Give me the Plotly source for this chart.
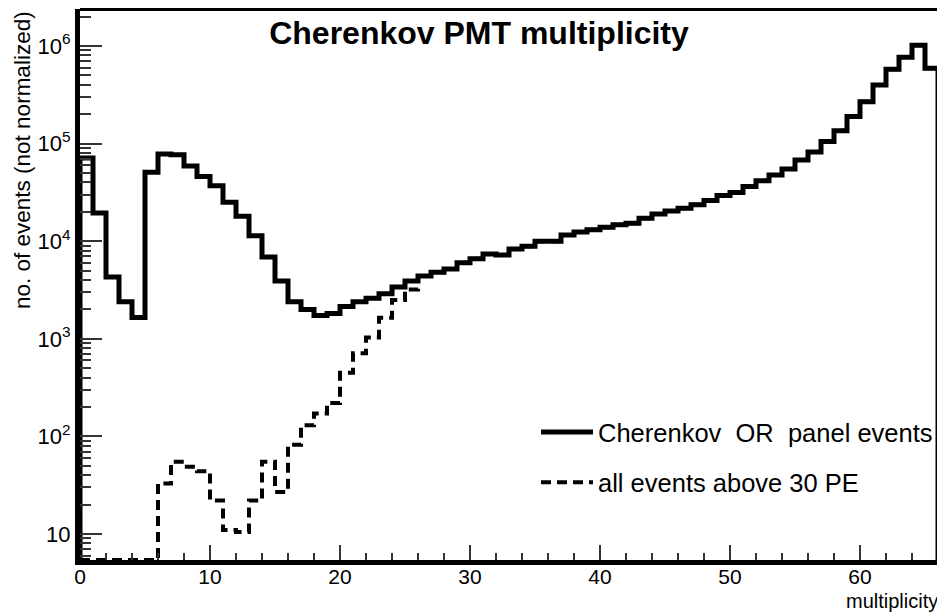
import numpy as np
import plotly.graph_objects as go

# bin contents, multiplicity bins 0..65 (width 1)
cherenkov_or_panel = [
    7.1e4, 1.95e4, 4.3e3, 2.4e3, 1.65e3, 5.1e4, 7.8e4, 7.7e4, 5.9e4, 4.6e4,
    3.7e4, 2.5e4, 1.8e4, 1.14e4, 6.9e3, 3.9e3, 2.4e3, 2.0e3, 1.73e3, 1.82e3,
    2.14e3, 2.4e3, 2.6e3, 2.9e3, 3.4e3, 3.9e3, 4.4e3, 4.8e3, 5.2e3, 6.0e3,
    6.6e3, 7.4e3, 7.2e3, 8.3e3, 8.9e3, 1.0e4, 1.0e4, 1.16e4, 1.24e4, 1.31e4,
    1.39e4, 1.47e4, 1.53e4, 1.72e4, 1.9e4, 2.04e4, 2.18e4, 2.36e4, 2.61e4, 2.94e4,
    3.15e4, 3.64e4, 4.15e4, 4.78e4, 5.5e4, 6.8e4, 8.2e4, 1.05e5, 1.35e5, 1.89e5,
    2.69e5, 3.99e5, 5.77e5, 7.66e5, 1.02e6, 5.9e5,
]
# low multiplicity part of the >30 PE histogram; above bin 25 it sits on the other one
above_30pe_low = [
    0, 0, 0, 0, 0, 0, 33, 55, 49, 44,
    22, 11, 10.5, 22, 55, 27, 82, 130, 172, 220,
    450, 710, 1.03e3, 1.64e3, 2.5e3, 3.2e3,
]
above_30pe = above_30pe_low + cherenkov_or_panel[len(above_30pe_low):]

labels = ["Cherenkov  OR  panel events", "all events above 30 PE"]
title = "Cherenkov PMT multiplicity"

ytickvals = [10, 1e2, 1e3, 1e4, 1e5, 1e6]
yticktext = ["10", "10<sup>2</sup>", "10<sup>3</sup>", "10<sup>4</sup>", "10<sup>5</sup>", "10<sup>6</sup>"]

FONT = "Liberation Sans, Arial, Helvetica, sans-serif"
W, H = 937, 608          # page body adds 8px margin
L, T, B = 72, 1, 56
PW, PH = W - L, H - T - B
ylog_range = [0.7336, 6.379]
xmax = PW / 13.0
yfloor = 10 ** ylog_range[0]

edges = np.arange(len(cherenkov_or_panel) + 1)


def step_xy(vals):
    v = np.maximum(np.array(vals, dtype=float), yfloor)
    x = np.concatenate([[edges[0]], edges, [edges[-1]]])
    y = np.concatenate([[yfloor], v, [v[-1]], [yfloor]])
    return x, y


def px_x(px):
    return (px - L) / PW


def px_y(py):
    return (H - B - py) / PH


fig = go.Figure()
x1, y1 = step_xy(cherenkov_or_panel)
fig.add_trace(go.Scatter(x=x1, y=y1, mode="lines", line_shape="hv",
                         line=dict(color="black", width=5),
                         name=labels[0], legendgroup="a"))
x2, y2 = step_xy(above_30pe)
fig.add_trace(go.Scatter(x=x2, y=y2, mode="lines", line_shape="hv",
                         line=dict(color="black", width=4, dash="10px,6px"),
                         name=labels[1], legendgroup="b"))

minor_y = [m * 10 ** k for k in range(0, 7) for m in range(2, 10)
           if 10 ** ylog_range[0] < m * 10 ** k < 10 ** ylog_range[1]]

fig.update_layout(
    width=W, height=H,
    margin=dict(l=L, r=0, t=T, b=B),
    paper_bgcolor="white", plot_bgcolor="white",
    font=dict(family=FONT, color="black"),
    title=dict(text="<b>" + title + "</b>", x=471 / W, xanchor="center",
               y=1 - 25 / H, yanchor="middle",
               font=dict(size=32, family=FONT, color="black")),
    xaxis=dict(range=[0, xmax], showgrid=False, zeroline=False,
               showline=True, linecolor="black", linewidth=5,
               ticks="inside", ticklen=15, tickwidth=1.5, tickcolor="#333",
               tick0=0, dtick=10, tickfont=dict(size=21), ticklabelstandoff=-6,
               minor=dict(ticks="inside", ticklen=7, tickwidth=1.5, tickcolor="#333",
                          tick0=0, dtick=2)),
    yaxis=dict(type="log", range=ylog_range, showgrid=False, zeroline=False,
               showline=True, linecolor="black", linewidth=5,
               ticks="inside", ticklen=22, tickwidth=1.5, tickcolor="#333",
               tickmode="array", tickvals=ytickvals, ticktext=yticktext,
               tickfont=dict(size=22),
               minor=dict(ticks="inside", ticklen=11, tickwidth=1.5, tickcolor="#333",
                          tickmode="array", tickvals=minor_y)),
    legend=dict(x=px_x(528), y=px_y(401), xanchor="left", yanchor="top",
                font=dict(size=25.5, family=FONT), bgcolor="rgba(0,0,0,0)",
                itemwidth=52, tracegroupgap=14),
    showlegend=True,
)

# top frame line
fig.add_shape(type="line", xref="paper", yref="paper", x0=0, x1=1, y0=1, y1=1,
              line=dict(color="black", width=4))

fig.add_annotation(text="no. of events (not normalized)", textangle=-90,
                   xref="paper", yref="paper", x=px_x(14), y=px_y(1),
                   xanchor="center", yanchor="top", showarrow=False,
                   font=dict(size=22.5, family=FONT))
fig.add_annotation(text="multiplicity", xref="paper", yref="paper",
                   x=px_x(836), y=px_y(593),
                   xanchor="left", yanchor="middle", showarrow=False,
                   font=dict(size=20, family=FONT))

fig.write_html("out.html")
